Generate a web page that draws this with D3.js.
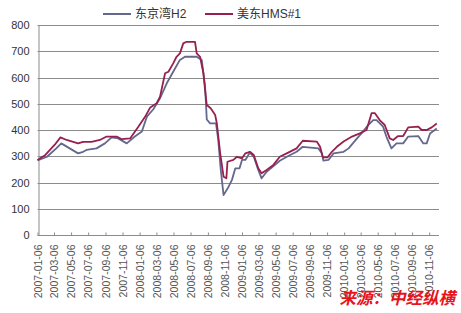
<!DOCTYPE html>
<html>
<head>
<meta charset="utf-8">
<script src="https://cdn.jsdelivr.net/npm/d3@7"></script>
<style>
  html, body { margin: 0; padding: 0; background: #fff; }
  svg { display: block; font-family: "Liberation Sans", Arial, "Noto Sans CJK SC", sans-serif; }
</style>
</head>
<body>
<svg id="chart" width="461" height="313"></svg>
<script>
// ─── Data ────────────────────────────────────────────────────────────────────

const seriesNames = ['东京湾H2', '美东HMS#1'];

const tickLabels = [
  '2007-01-06', '2007-03-06', '2007-05-06', '2007-07-06', '2007-09-06', '2007-11-06',
  '2008-01-06', '2008-03-06', '2008-05-06', '2008-07-06', '2008-09-06', '2008-11-06',
  '2009-01-06', '2009-03-06', '2009-05-06', '2009-07-06', '2009-09-06', '2009-11-06',
  '2010-01-06', '2010-03-06', '2010-05-06', '2010-07-06', '2010-09-06', '2010-11-06'
];

const yTicks = [0, 100, 200, 300, 400, 500, 600, 700, 800];

// 东京湾H2
const tokyoDates = [
  '2007-01-06', '2007-02-09', '2007-03-14', '2007-04-01', '2007-05-01', '2007-05-31',
  '2007-06-18', '2007-06-30', '2007-08-05', '2007-09-04', '2007-09-28', '2007-10-21',
  '2007-11-21', '2007-12-20', '2008-01-14', '2008-02-01', '2008-02-24', '2008-03-19',
  '2008-04-12', '2008-05-05', '2008-05-29', '2008-06-16', '2008-07-28', '2008-08-15',
  '2008-08-27', '2008-09-02', '2008-09-14', '2008-10-05', '2008-10-13', '2008-10-22',
  '2008-11-01', '2008-11-19', '2008-12-01', '2008-12-13', '2008-12-28', '2009-01-06',
  '2009-01-18', '2009-02-03', '2009-02-17', '2009-03-05', '2009-03-17', '2009-04-04',
  '2009-05-04', '2009-05-21', '2009-06-20', '2009-07-20', '2009-08-11', '2009-10-06',
  '2009-10-18', '2009-10-24', '2009-11-11', '2009-11-29', '2010-01-04', '2010-01-22',
  '2010-02-21', '2010-03-09', '2010-04-02', '2010-04-20', '2010-05-02', '2010-05-25',
  '2010-06-06', '2010-06-24', '2010-07-12', '2010-08-05', '2010-08-23', '2010-09-28',
  '2010-10-16', '2010-10-28', '2010-11-09', '2010-12-03'
];
const tokyoValues = [
  284, 298, 330, 349, 330, 311,
  317, 324, 330, 349, 372, 368,
  349, 375, 394, 451, 479, 521,
  578, 622, 667, 679, 679, 667,
  565, 440, 425, 425, 362, 248,
  152, 184, 210, 254, 254, 286,
  286, 314, 298, 248, 216, 241,
  267, 283, 301, 317, 336, 330,
  311, 283, 286, 311, 317, 330,
  368, 387, 419, 438, 438, 413,
  375, 330, 349, 349, 375, 377,
  349, 349, 387, 406
];

// 美东HMS#1
const usDates = [
  '2007-01-06', '2007-02-03', '2007-03-08', '2007-03-29', '2007-04-20', '2007-05-31',
  '2007-06-18', '2007-07-18', '2007-08-17', '2007-09-10', '2007-10-16', '2007-11-03',
  '2007-12-03', '2008-01-02', '2008-01-26', '2008-02-13', '2008-03-07', '2008-03-19',
  '2008-04-06', '2008-04-18', '2008-05-05', '2008-05-17', '2008-05-29', '2008-06-10',
  '2008-06-22', '2008-07-22', '2008-07-28', '2008-08-09', '2008-08-21', '2008-08-27',
  '2008-09-02', '2008-09-16', '2008-10-02', '2008-10-08', '2008-10-20', '2008-11-01',
  '2008-11-11', '2008-11-15', '2008-12-06', '2008-12-19', '2009-01-06', '2009-01-18',
  '2009-02-03', '2009-02-17', '2009-03-05', '2009-03-17', '2009-04-04', '2009-04-28',
  '2009-05-21', '2009-06-20', '2009-07-20', '2009-08-11', '2009-09-30', '2009-10-12',
  '2009-10-22', '2009-11-08', '2009-11-23', '2009-12-11', '2010-01-04', '2010-02-03',
  '2010-03-03', '2010-03-27', '2010-04-14', '2010-04-26', '2010-05-13', '2010-05-31',
  '2010-06-18', '2010-06-30', '2010-07-18', '2010-08-05', '2010-08-23', '2010-09-28',
  '2010-10-10', '2010-10-28', '2010-11-15', '2010-12-03'
];
const usValues = [
  286, 305, 343, 372, 362, 349,
  355, 355, 362, 375, 375, 365,
  368, 413, 451, 486, 502, 527,
  616, 622, 654, 679, 692, 730,
  736, 736, 692, 679, 616, 552,
  495, 483, 457, 425, 311, 222,
  216, 279, 286, 298, 292, 311,
  317, 305, 254, 235, 248, 267,
  298, 314, 330, 359, 356, 336,
  296, 296, 317, 336, 356, 375,
  387, 400, 464, 464, 438, 419,
  368, 362, 377, 377, 410, 413,
  400, 400, 410, 425
];

const colors = ['#63688c', '#97204f'];

// ─── Scales ──────────────────────────────────────────────────────────────────

const parse = d3.timeParse('%Y-%m-%d');
const svg = d3.select('#chart');

const plot = { left: 37.5, right: 439, top: 25, bottom: 235 };

const x = d3.scaleTime()
  .domain([parse('2007-01-06'), parse('2010-12-11')])
  .range([plot.left, plot.right]);

const y = d3.scaleLinear()
  .domain([0, 800])
  .range([plot.bottom, plot.top]);

// ─── Gridlines + y axis ──────────────────────────────────────────────────────

svg.append('g')
  .selectAll('line')
  .data(yTicks.filter(v => v > 0))
  .join('line')
  .attr('x1', plot.left)
  .attr('x2', plot.right)
  .attr('y1', d => Math.round(y(d)) + 0.5)
  .attr('y2', d => Math.round(y(d)) + 0.5)
  .attr('stroke', '#8c8c8c')
  .attr('stroke-width', 1);

const yAxis = svg.append('g')
  .attr('transform', `translate(${Math.round(plot.left) + 0.5},0)`)
  .call(d3.axisLeft(y).tickValues(yTicks).tickSize(0).tickPadding(9));
yAxis.select('.domain').attr('stroke', '#8c8c8c');
yAxis.selectAll('text')
  .attr('font-size', 11)
  .attr('fill', '#333');

// ─── x axis ──────────────────────────────────────────────────────────────────

const xAxis = svg.append('g')
  .attr('transform', `translate(0,${Math.round(plot.bottom) + 0.5})`)
  .call(d3.axisBottom(x).tickValues(tickLabels.map(parse)).tickSize(0).tickFormat(d3.timeFormat('%Y-%m-%d')));
xAxis.select('.domain').attr('stroke', '#8c8c8c').attr('d', `M${plot.left},0H${plot.right}`);
xAxis.selectAll('.tick line')
  .attr('y2', -3)
  .attr('stroke', '#8c8c8c');
xAxis.selectAll('.tick')
  .append('line')
  .attr('stroke', '#8c8c8c');
xAxis.selectAll('text')
  .attr('transform', 'rotate(-90)')
  .attr('text-anchor', 'end')
  .attr('x', -9)
  .attr('y', 0)
  .attr('dy', '0.35em')
  .attr('font-size', 10.5)
  .attr('fill', '#555');

// ─── Lines ───────────────────────────────────────────────────────────────────

const line = d3.line()
  .x(d => x(d.date))
  .y(d => y(d.value));

const series = [
  tokyoDates.map((d, i) => ({ date: parse(d), value: tokyoValues[i] })),
  usDates.map((d, i) => ({ date: parse(d), value: usValues[i] })),
];

svg.append('g')
  .selectAll('path')
  .data(series)
  .join('path')
  .attr('d', line)
  .attr('fill', 'none')
  .attr('stroke', (d, i) => colors[i])
  .attr('stroke-width', 1.8)
  .attr('stroke-linejoin', 'round');

// ─── Legend ──────────────────────────────────────────────────────────────────

const legendX = [103, 205];
const legend = svg.append('g')
  .selectAll('g')
  .data(seriesNames)
  .join('g')
  .attr('transform', (d, i) => `translate(${legendX[i]},14)`);
legend.append('line')
  .attr('x1', 0).attr('x2', 28)
  .attr('stroke', (d, i) => colors[i])
  .attr('stroke-width', 2);
legend.append('text')
  .attr('x', 32)
  .attr('dy', '0.36em')
  .attr('font-size', 12)
  .attr('fill', '#333')
  .text(d => d);

// ─── Source watermark ────────────────────────────────────────────────────────

svg.append('text')
  .attr('x', 455)
  .attr('y', 304)
  .attr('text-anchor', 'end')
  .attr('font-family', '"Noto Sans CJK SC", sans-serif')
  .attr('font-size', 16.5)
  .attr('font-weight', 'bold')
  .attr('font-style', 'italic')
  .attr('fill', '#e8141c')
  .text('来源：中经纵横');
</script>
</body>
</html>
